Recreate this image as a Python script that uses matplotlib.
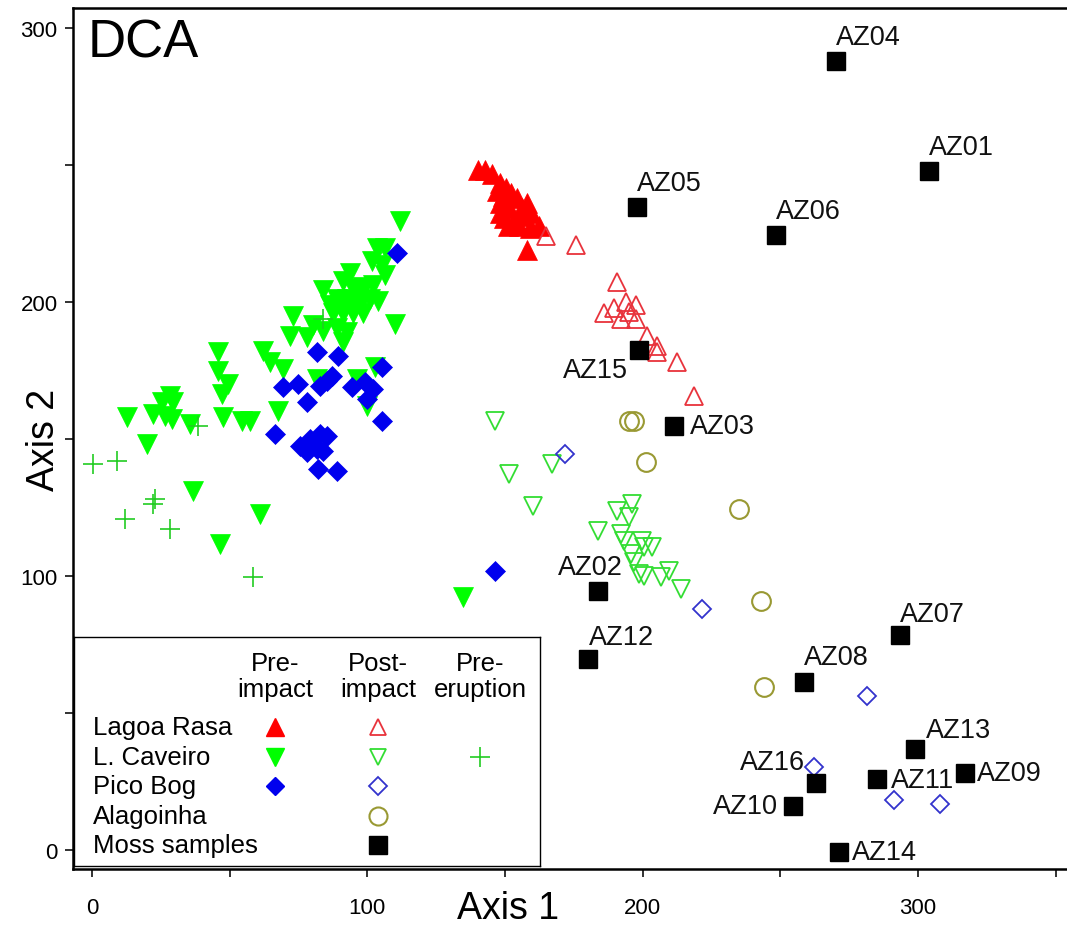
import matplotlib
matplotlib.use("Agg")
import matplotlib.pyplot as plt
from matplotlib.ticker import MultipleLocator

plt.rcParams['font.family'] = ['Liberation Sans', 'DejaVu Sans']

# ---- data (DCA axis 1 / axis 2 scores) ----
rasa_pre_x = [140.0, 142.9, 145.1, 148.0, 146.9, 150.2, 149.4, 152.3, 154.5, 148.0, 151.6, 156.0,
              158.1, 149.8, 153.4, 157.1, 159.6, 150.9, 155.2, 162.5, 158.9, 157.8, 148.0]
rasa_pre_y = [248.1, 248.1, 246.6, 243.3, 240.4, 241.5, 238.6, 239.7, 237.8, 236.0, 234.2, 234.2,
              236.0, 230.5, 229.8, 231.2, 232.3, 227.6, 227.6, 227.6, 226.9, 218.8, 232.3]

rasa_post_x = [165.0, 175.9, 190.8, 194.0, 189.7, 197.7, 192.2, 197.7, 201.7, 205.3, 205.3, 212.6,
               218.7, 195.1, 186.1]
rasa_post_y = [223.9, 220.6, 207.4, 200.1, 197.6, 198.7, 193.9, 193.9, 187.7, 184.0, 181.8, 178.2,
               165.8, 196.5, 195.8]

caveiro_pre_x = [111.7, 103.4, 106.3, 101.6, 105.2, 106.3, 93.6, 91.0, 94.7, 98.3, 101.9, 83.8,
                 88.9, 92.5, 97.2, 100.8, 103.7, 86.3, 89.9, 93.6, 97.2, 87.4, 91.0, 94.7, 98.3,
                 109.9, 72.9, 80.2, 83.8, 88.9, 92.5, 71.8, 78.0, 91.0, 62.0, 45.7, 64.6, 69.3,
                 45.7, 49.3, 47.2, 28.3, 25.4, 29.4, 22.1, 26.5, 12.7, 29.0, 35.5, 47.5, 54.4,
                 57.3, 67.5, 19.9, 81.6, 96.1, 102.6, 99.7, 36.6, 60.9, 46.4, 134.6]
caveiro_pre_y = [229.4, 219.5, 219.5, 215.1, 213.3, 209.7, 210.4, 207.8, 204.9, 205.6, 206.0, 204.2,
                 201.2, 201.2, 202.3, 201.2, 200.5, 198.7, 198.7, 198.7, 198.7, 195.8, 195.8, 195.8,
                 195.8, 192.1, 195.0, 191.4, 189.5, 190.3, 189.2, 187.7, 187.3, 185.5, 182.2, 181.9,
                 178.2, 175.6, 174.9, 170.1, 166.5, 165.8, 163.6, 163.6, 159.2, 158.4, 158.1, 157.3,
                 155.5, 158.1, 156.6, 156.6, 160.3, 148.2, 172.0, 172.0, 176.4, 162.1, 131.0, 122.6,
                 111.6, 92.2]

caveiro_post_x = [146.2, 151.6, 160.0, 167.2, 183.9, 190.8, 196.2, 195.1, 192.2, 193.3, 199.8, 203.5,
                  195.9, 196.9, 198.8, 200.6, 206.7, 209.6, 214.0, 200.6]
caveiro_post_y = [156.6, 137.2, 125.5, 140.9, 116.4, 123.7, 126.2, 121.5, 115.3, 112.7, 112.7, 110.5,
                  107.9, 105.0, 100.6, 99.9, 99.5, 101.7, 95.1, 110.5]

caveiro_erupt_x = [0.4, 9.1, 12.0, 22.9, 22.1, 28.3, 58.4, 38.4, 83.8]
caveiro_erupt_y = [140.9, 142.0, 120.7, 128.1, 126.2, 117.1, 99.5, 154.8, 193.9]

pico_pre_x = [110.6, 81.6, 89.2, 105.2, 69.3, 74.7, 82.7, 85.2, 87.0, 94.3, 99.0, 101.9, 99.7,
              78.0, 105.2, 66.4, 75.4, 79.1, 82.7, 85.2, 78.0, 81.6, 83.8, 82.0, 88.9, 146.2]
pico_pre_y = [217.7, 181.9, 180.4, 176.4, 169.0, 170.1, 169.4, 171.2, 173.1, 169.0, 170.9, 168.3,
              164.7, 163.6, 156.6, 151.8, 147.5, 150.0, 151.8, 151.1, 145.3, 146.4, 145.6, 139.0,
              138.3, 101.7]

pico_post_x = [171.6, 221.6, 281.5, 262.2, 291.2, 307.9]
pico_post_y = [144.5, 87.8, 56.3, 30.4, 18.3, 16.8]

alag_x = [195.1, 196.9, 201.3, 235.0, 243.0, 244.1]
alag_y = [156.6, 156.6, 141.6, 124.4, 90.7, 59.6]

moss_names = ['AZ04', 'AZ01', 'AZ05', 'AZ06', 'AZ15', 'AZ03', 'AZ02', 'AZ12',
              'AZ07', 'AZ08', 'AZ13', 'AZ09', 'AZ16', 'AZ11', 'AZ10', 'AZ14']
moss_x = [270.2, 304.0, 198.0, 248.5, 198.8, 211.5, 183.9, 180.3,
          293.4, 258.6, 298.9, 317.0, 263.0, 285.0, 254.6, 271.3]
moss_y = [288.0, 247.7, 234.5, 224.3, 182.6, 154.8, 94.4, 69.9,
          78.3, 61.5, 37.0, 28.2, 24.5, 26.0, 16.1, -0.7]

# label placement around each square (offset in points, alignment)
lab_pos = {
    'AZ04': (0, 8, 'left', 'bottom'), 'AZ01': (0, 8, 'left', 'bottom'),
    'AZ05': (0, 8, 'left', 'bottom'), 'AZ06': (0, 8, 'left', 'bottom'),
    'AZ15': (-8, -5, 'right', 'top'), 'AZ03': (11, 0, 'left', 'center'),
    'AZ02': (-6, 8, 'center', 'bottom'), 'AZ12': (0, 6, 'left', 'bottom'),
    'AZ07': (0, 6, 'left', 'bottom'), 'AZ08': (0, 8, 'left', 'bottom'),
    'AZ13': (8, 4, 'left', 'bottom'), 'AZ09': (9, 0, 'left', 'center'),
    'AZ16': (-8, 6, 'right', 'bottom'), 'AZ11': (10, -1, 'left', 'center'),
    'AZ10': (-11, 0, 'right', 'center'), 'AZ14': (9, 0, 'left', 'center'),
}

RED = '#ff0000'
RED_OPEN = '#e8333c'
GREEN = '#00ff00'
GREEN_OPEN = '#33dd33'
GREEN_PLUS = '#22cc22'
BLUE = '#0000ee'
BLUE_OPEN = '#3333cc'
OLIVE = '#999933'

fig = plt.figure(figsize=(10.67, 9.28), dpi=100)
ax = fig.add_axes([0.0684, 0.0625, 0.934, 0.928])

ms_tri = 14.5
ms_tri_open = 13.5
ax.plot(caveiro_pre_x, caveiro_pre_y, 'v', color=GREEN, ms=ms_tri, mec=GREEN, mew=0.5, ls='none')
ax.plot(pico_pre_x, pico_pre_y, 'D', color=BLUE, ms=10, mec=BLUE, mew=0.5, ls='none')
ax.plot(caveiro_erupt_x, caveiro_erupt_y, '+', color=GREEN_PLUS, ms=14, mew=1.2, ls='none')
ax.plot(rasa_pre_x, rasa_pre_y, '^', color=RED, ms=ms_tri, mec=RED, mew=0.5, ls='none')
ax.plot(rasa_post_x, rasa_post_y, '^', mfc='none', mec=RED_OPEN, ms=ms_tri_open, mew=1.3, ls='none')
ax.plot(caveiro_post_x, caveiro_post_y, 'v', mfc='none', mec=GREEN_OPEN, ms=ms_tri_open, mew=1.3, ls='none')
ax.plot(pico_post_x, pico_post_y, 'D', mfc='none', mec=BLUE_OPEN, ms=9.5, mew=1.3, ls='none')
ax.plot(alag_x, alag_y, 'o', mfc='none', mec=OLIVE, ms=13.5, mew=1.5, ls='none')
ax.plot(moss_x, moss_y, 's', color='black', ms=13.5, ls='none', zorder=4)

for name, x, y in zip(moss_names, moss_x, moss_y):
    dx, dy, ha, va = lab_pos[name]
    ax.annotate(name, (x, y), xytext=(dx, dy), textcoords='offset points',
                ha=ha, va=va, fontsize=19.5, color='#111111', zorder=5)

ax.text(0.015, 0.943, 'DCA', transform=ax.transAxes, fontsize=38, va='baseline', ha='left')

ax.set_xlim(-6.9, 355)
ax.set_ylim(-6.9, 307.3)
ax.xaxis.set_major_locator(MultipleLocator(100))
ax.xaxis.set_minor_locator(MultipleLocator(50))
ax.yaxis.set_major_locator(MultipleLocator(100))
ax.yaxis.set_minor_locator(MultipleLocator(50))
ax.tick_params(which='both', direction='out', length=6, width=1.3, color='#222222')
ax.tick_params(axis='x', which='major', labelsize=16, pad=14)
ax.tick_params(axis='y', which='major', labelsize=16, pad=5)
for side in ['left', 'top', 'bottom']:
    ax.spines[side].set_linewidth(1.8)
ax.spines['right'].set_visible(False)

fig.text(0.476, 0.021, 'Axis 1', fontsize=27, ha='center', va='center')
fig.text(0.041, 0.526, 'Axis 2', fontsize=27, ha='center', va='center', rotation=90)

# ---- custom legend table ----
lg = fig.add_axes([0.0694, 0.0657, 0.4367, 0.2468], zorder=10)
lg.set_xlim(74, 540)
lg.set_ylim(867, 638)
lg.set_xticks([])
lg.set_yticks([])
for s in lg.spines.values():
    s.set_linewidth(1.0)

col_x = [275, 378, 480]
heads = ['Pre-\nimpact', 'Post-\nimpact', 'Pre-\neruption']
for cx, h in zip(col_x, heads):
    lg.text(cx, 677, h, ha='center', va='center', fontsize=18.5, linespacing=1.1)

rows = ['Lagoa Rasa', 'L. Caveiro', 'Pico Bog', 'Alagoinha', 'Moss samples']
row_y = [728, 758, 787, 817, 846]
for name, ry in zip(rows, row_y):
    lg.text(93, ry, name, ha='left', va='center', fontsize=18.5)

lg.plot(col_x[0], row_y[0], '^', color=RED, ms=13)
lg.plot(col_x[1], row_y[0], '^', mfc='none', mec=RED_OPEN, ms=12, mew=1.3)
lg.plot(col_x[0], row_y[1], 'v', color=GREEN, ms=13)
lg.plot(col_x[1], row_y[1], 'v', mfc='none', mec=GREEN_OPEN, ms=12, mew=1.3)
lg.plot(col_x[2], row_y[1], '+', color=GREEN_PLUS, ms=14, mew=1.2)
lg.plot(col_x[0], row_y[2], 'D', color=BLUE, ms=9.5)
lg.plot(col_x[1], row_y[2], 'D', mfc='none', mec=BLUE_OPEN, ms=9, mew=1.3)
lg.plot(col_x[1], row_y[3], 'o', mfc='none', mec=OLIVE, ms=13, mew=1.5)
lg.plot(col_x[1], row_y[4], 's', color='black', ms=13)

fig.savefig('out.png', dpi=100)
